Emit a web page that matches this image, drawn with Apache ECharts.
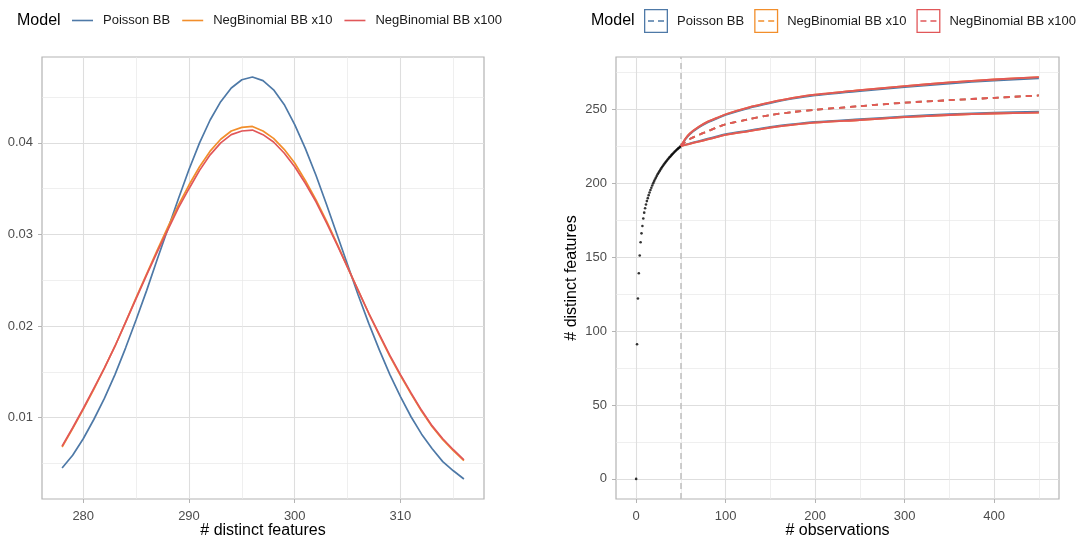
<!DOCTYPE html>
<html>
<head>
<meta charset="utf-8">
<script src="https://cdn.jsdelivr.net/npm/echarts@6/dist/echarts.min.js"></script>
<style>
  html, body { margin: 0; padding: 0; background: #ffffff; }
  #chart { width: 1086px; height: 536px; }
</style>
</head>
<body>
<div id="chart"></div>
<script>
// ---- shared ----
const FONT = '"Liberation Sans", Arial, Helvetica, sans-serif';
const modelNames = ['Poisson BB', 'NegBinomial BB x10', 'NegBinomial BB x100'];
const modelColors = ['#4E79A7', '#F28E2B', '#E15759'];

// ---- left panel: probability of each number of distinct features ----
const featureCounts = [278, 279, 280, 281, 282, 283, 284, 285, 286, 287, 288, 289, 290,
  291, 292, 293, 294, 295, 296, 297, 298, 299, 300, 301, 302, 303, 304, 305, 306, 307,
  308, 309, 310, 311, 312, 313, 314, 315, 316];
const densPoisson = [0.0045, 0.0059, 0.0077, 0.0098, 0.0121, 0.0147, 0.0176, 0.0207, 0.0239,
  0.0273, 0.0306, 0.0339, 0.0371, 0.0400, 0.0425, 0.0445, 0.0460, 0.0469, 0.0472, 0.0468,
  0.0458, 0.0442, 0.0420, 0.0394, 0.0365, 0.0333, 0.0300, 0.0267, 0.0234, 0.0203, 0.0174,
  0.0147, 0.0123, 0.0101, 0.0082, 0.0066, 0.0052, 0.0042, 0.0033];
const densNB10 = [0.0068, 0.0088, 0.0109, 0.0131, 0.0154, 0.0178, 0.0204, 0.0231, 0.0257,
  0.0283, 0.0308, 0.0332, 0.0354, 0.0374, 0.0391, 0.0404, 0.0413, 0.0417, 0.0418, 0.0413,
  0.0405, 0.0393, 0.0378, 0.0359, 0.0338, 0.0315, 0.0290, 0.0264, 0.0239, 0.0214, 0.0190,
  0.0167, 0.0146, 0.0126, 0.0107, 0.0090, 0.0076, 0.0064, 0.0053];
const densNB100 = [0.0069, 0.0089, 0.0110, 0.0132, 0.0154, 0.0178, 0.0204, 0.0230, 0.0256,
  0.0281, 0.0305, 0.0329, 0.0350, 0.0370, 0.0387, 0.0400, 0.0409, 0.0413, 0.0414, 0.0409,
  0.0401, 0.0389, 0.0374, 0.0356, 0.0336, 0.0313, 0.0289, 0.0264, 0.0239, 0.0214, 0.0191,
  0.0168, 0.0147, 0.0127, 0.0108, 0.0091, 0.0077, 0.0065, 0.0054];

const leftXTicks = [280, 290, 300, 310];
const leftXMinor = [285, 295, 305, 315];
const leftYTicks = [0.01, 0.02, 0.03, 0.04];
const leftYMinor = [0.005, 0.015, 0.025, 0.035, 0.045];

// ---- right panel: accumulation of distinct features ----
const obsN = [0, 1, 2, 3, 4, 5, 6, 7, 8, 9, 10, 11, 12, 13, 14, 15, 16, 17, 18, 19, 20,
  21, 22, 23, 24, 25, 26, 27, 28, 29, 30, 31, 32, 33, 34, 35, 36, 37, 38, 39, 40,
  41, 42, 43, 44, 45, 46, 47, 48, 49, 50];
const obsFeatures = [0, 91, 122, 139, 151, 160, 166, 171, 176, 180, 183, 185.5, 187.8, 189.8,
  191.8, 193.6, 195.3, 196.8, 198.3, 199.8, 201.1, 202.4, 203.6, 204.7, 205.9, 206.9, 207.9,
  208.9, 209.9, 210.8, 211.7, 212.5, 213.4, 214.2, 214.9, 215.7, 216.4, 217.2, 217.8, 218.5,
  219.2, 219.8, 220.5, 221.1, 221.7, 222.3, 222.8, 223.4, 223.9, 224.5, 225];

const extrapN = [50, 55, 60, 70, 80, 90, 100, 125, 150, 175, 200, 250, 300, 350, 400, 450];
const poissonUpper = [225, 229.5, 233, 237.5, 241, 243.5, 246, 250.5, 254, 257, 259.2, 262.2, 264.8, 267.3, 269.3, 270.8];
const poissonMean  = [225, 228, 229.8, 232.5, 235, 237.5, 239.7, 243, 246, 248, 249.5, 252, 254.3, 256, 257.6, 259.2];
const poissonLower = [225, 226, 226.8, 228.4, 230, 231.5, 233, 235.5, 238, 239.8, 241.3, 243.2, 245, 246.6, 247.6, 248.2];
const nb10Upper = [225, 230, 233.5, 238, 241.5, 244, 246.5, 251, 254.5, 257.5, 259.8, 262.8, 265.5, 268, 270, 271.6];
const nb10Mean  = [225, 228, 229.8, 232.5, 235, 237.5, 239.7, 243, 246, 248, 249.5, 252, 254.3, 256, 257.6, 259.2];
const nb10Lower = [225, 225.8, 226.5, 228, 229.5, 231, 232.5, 235, 237.5, 239.3, 240.8, 242.6, 244.5, 246, 247, 247.6];
const nb100Upper = [225, 230, 233.5, 238, 241.5, 244, 246.5, 251, 254.5, 257.5, 259.8, 262.8, 265.5, 268, 270, 271.6];
const nb100Mean  = [225, 228, 229.8, 232.5, 235, 237.5, 239.7, 243, 246, 248, 249.5, 252, 254.3, 256, 257.6, 259.2];
const nb100Lower = [225, 225.8, 226.5, 228, 229.5, 231, 232.5, 235, 237.5, 239.3, 240.8, 242.6, 244.5, 246, 247, 247.6];
const observedCutoff = 50;

const rightXTicks = [0, 100, 200, 300, 400];
const rightXMinor = [50, 150, 250, 350, 450];
const rightYTicks = [0, 50, 100, 150, 200, 250];
const rightYMinor = [25, 75, 125, 175, 225, 275];

// ---- helpers ----
const zip = (xs, ys) => xs.map((x, i) => [x, ys[i]]);
const GRID_MAJOR = '#dedede';
const BORDER = '#b3b3b3';

function majorAxis(gridIndex, min, max, ticks, fmt, margin, extra) {
  return Object.assign({
    type: 'value', gridIndex, min, max,
    axisLine: { show: false, onZero: false },
    axisTick: { show: true, inside: false, length: 4, customValues: ticks,
      lineStyle: { color: BORDER, width: 1 } },
    axisLabel: { customValues: ticks, formatter: fmt, color: '#4d4d4d',
      fontFamily: FONT, fontSize: 13, margin },
    splitLine: { show: true, lineStyle: { color: GRID_MAJOR, width: 1.1 } }
  }, extra || {});
}
function minorAxis(gridIndex, min, max, ticks) {
  return {
    type: 'value', gridIndex, min, max,
    axisLine: { show: false, onZero: false },
    axisTick: { show: false, customValues: ticks },
    axisLabel: { show: false },
    splitLine: { show: true, lineStyle: { color: '#e8e8e8', width: 0.7 } }
  };
}
const axisTitle = { color: '#000000', fontFamily: FONT, fontSize: 16 };
function axisName(text, gap) {
  return { name: text, nameLocation: 'middle', nameGap: gap, nameMoveOverlap: false,
    nameTextStyle: axisTitle };
}

const lineLegendIcon = 'path://M0,0h21v1.6h-21z';
const ribbonLegendIcon = 'path://M0,0h24v24h-24z M1.3,1.3v21.4h21.4v-21.4z M4,11.3h6v1.5h-6z M14,11.3h6v1.5h-6z';

const series = [];
// density curves
[densPoisson, densNB10, densNB100].forEach((d, i) => {
  series.push({
    type: 'line', name: modelNames[i], xAxisIndex: 0, yAxisIndex: 0,
    data: zip(featureCounts, d), showSymbol: false, symbol: 'none',
    lineStyle: { color: modelColors[i], width: 1.7 }, itemStyle: { color: modelColors[i] },
    z: 3 + i, silent: true
  });
});
// observed accumulation points with the cut-off marker
series.push({
  type: 'scatter', name: 'observed', xAxisIndex: 2, yAxisIndex: 2,
  data: zip(obsN, obsFeatures), symbolSize: 2.6,
  itemStyle: { color: '#000000' }, z: 3, silent: true,
  markLine: {
    silent: true, symbol: 'none', z: 2,
    label: { show: false },
    lineStyle: { color: '#bfbfbf', type: [6, 4], width: 1.5 },
    data: [{ xAxis: observedCutoff }]
  }
});
// extrapolated bands and means
const bands = [
  [poissonUpper, poissonMean, poissonLower],
  [nb10Upper, nb10Mean, nb10Lower],
  [nb100Upper, nb100Mean, nb100Lower]
];
bands.forEach((b, i) => {
  [0, 2].forEach(k => {
    series.push({
      type: 'line', name: modelNames[i], xAxisIndex: 2, yAxisIndex: 2,
      data: zip(extrapN, b[k]), showSymbol: false, symbol: 'none', smooth: 0.3,
      lineStyle: { color: modelColors[i], width: 1.8 }, itemStyle: { color: modelColors[i] },
      z: 4 + i, silent: true
    });
  });
  series.push({
    type: 'line', name: modelNames[i], xAxisIndex: 2, yAxisIndex: 2,
    data: zip(extrapN, b[1]), showSymbol: false, symbol: 'none', smooth: 0.3,
    lineStyle: { color: modelColors[i], width: 1.8, type: [6, 5] }, itemStyle: { color: modelColors[i] },
    z: 4 + i, silent: true
  });
});

const option = {
  animation: false,
  backgroundColor: '#ffffff',
  textStyle: { fontFamily: FONT },
  title: [
    { text: 'Model', left: 17, top: 13, padding: 0,
      textStyle: { fontFamily: FONT, fontSize: 16, fontWeight: 'normal', color: '#000' } },
    { text: 'Model', left: 591, top: 13, padding: 0,
      textStyle: { fontFamily: FONT, fontSize: 16, fontWeight: 'normal', color: '#000' } }
  ],
  legend: [
    { left: 72, top: 14, padding: 0, itemWidth: 21, itemHeight: 14, itemGap: 12,
      selectedMode: false,
      textStyle: { fontFamily: FONT, fontSize: 13, color: '#1a1a1a', padding: [0, 0, 0, 5] },
      data: modelNames.map((n, i) => ({ name: n, icon: lineLegendIcon,
        itemStyle: { color: modelColors[i] } })) },
    { left: 644, top: 9, padding: 0, itemWidth: 24, itemHeight: 24, itemGap: 10,
      selectedMode: false,
      textStyle: { fontFamily: FONT, fontSize: 13, color: '#1a1a1a', padding: [0, 0, 0, 4] },
      data: modelNames.map((n, i) => ({ name: n, icon: ribbonLegendIcon,
        itemStyle: { color: modelColors[i] } })) }
  ],
  grid: [
    { left: 42, right: 602, top: 57, bottom: 37, show: true, borderColor: BORDER,
      borderWidth: 1.2, backgroundColor: 'transparent', outerBoundsMode: 'none' },
    { left: 616, right: 27, top: 57, bottom: 37, show: true, borderColor: BORDER,
      borderWidth: 1.2, backgroundColor: 'transparent', outerBoundsMode: 'none' }
  ],
  xAxis: [
    majorAxis(0, 276.1, 317.9, leftXTicks, v => String(v), 11, axisName('# distinct features', 24)),
    minorAxis(0, 276.1, 317.9, leftXMinor),
    majorAxis(1, -22.5, 472.5, rightXTicks, v => String(v), 11, axisName('# observations', 24)),
    minorAxis(1, -22.5, 472.5, rightXMinor)
  ],
  yAxis: [
    majorAxis(0, 0.00112, 0.04938, leftYTicks, v => v.toFixed(2), 9),
    minorAxis(0, 0.00112, 0.04938, leftYMinor),
    majorAxis(1, -13.58, 285.2, rightYTicks, v => String(v), 9, axisName('# distinct features', 36)),
    minorAxis(1, -13.58, 285.2, rightYMinor)
  ],
  series
};

const chart = echarts.init(document.getElementById('chart'), null, { renderer: 'canvas' });
chart.setOption(option);
</script>
</body>
</html>
